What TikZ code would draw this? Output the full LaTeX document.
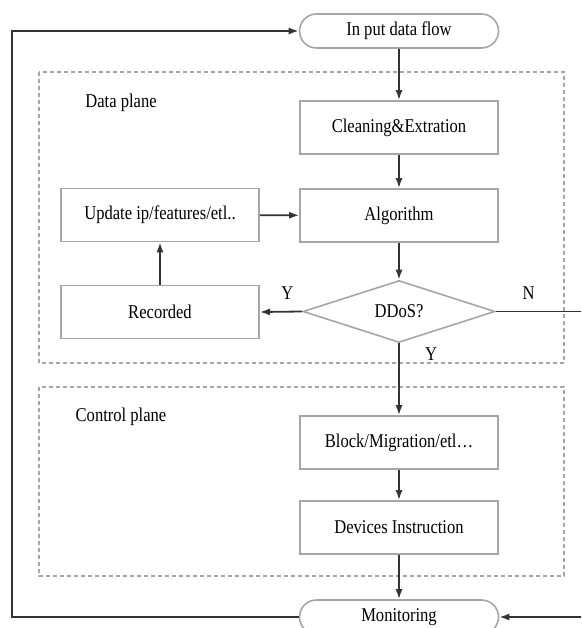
\documentclass[tikz,border=0pt]{standalone}
\usepackage{fontspec}
\setmainfont{Liberation Serif}[FakeStretch=0.85]
\usetikzlibrary{shapes.geometric, shapes.misc, arrows.meta}

\begin{document}
\begin{tikzpicture}[
        x=1pt, y=-1pt,
        every node/.style={font=\fontsize{19.5}{22}\selectfont},
        stepbox/.style={rectangle, draw=gray!70, line width=1.6pt, fill=white, minimum width=198pt, minimum height=53pt, inner sep=0pt, align=center},
        terminal/.style={rounded rectangle, draw=gray!70, line width=1.6pt, fill=white, minimum width=199pt, minimum height=34pt, inner sep=0pt},
        decision/.style={diamond, draw=gray!70, line width=1.6pt, fill=white, minimum width=192pt, minimum height=53pt, inner sep=0pt},
        plane/.style={draw=gray!70, dash pattern=on 4pt off 3pt, line width=1.3pt},
        link/.style={-{Latex[length=10pt,width=7pt]}, line width=1.8pt, draw=black!80},
        labeltext/.style={font=\fontsize{19.5}{22}\selectfont}
    ]
    \useasboundingbox (0,0) rectangle (581,628);
    \clip (0,0) rectangle (581,628);

    % Planes
    \draw[plane] (39,72) rectangle (564,363);
    \draw[plane] (39,387) rectangle (564,576);
    \node[labeltext] (dplabel) at (121,103) {Data plane};
    \node[labeltext] (cplabel) at (121,417) {Control plane};

    % Nodes
    \node[terminal] (input) at (399,31) {In put data flow};
    \node[stepbox] (clean) at (399,127.5) {Cleaning\&Extration};
    \node[stepbox] (algo) at (399,215.5) {Algorithm};
    \node[stepbox] (update) at (160,215) {Update ip/features/etl..};
    \node[decision] (ddos) at (399,311.5) {DDoS?};
    \node[stepbox] (recorded) at (160,312) {Recorded};
    \node[stepbox] (block) at (399,442.5) {Block/Migration/etl\dots};
    \node[stepbox] (devices) at (399,527.5) {Devices Instruction};
    \node[terminal] (monitor) at (399,617) {Monitoring};

    \coordinate (leftrail) at (12,320);
    \coordinate (rightrail) at (592,320);

    % Edges
    \draw[link] (input) -- (clean);
    \draw[link] (clean) -- (algo);
    \draw[link] (update) -- (algo);
    \draw[link] (algo) -- (ddos);
    \draw[link] (ddos.west) -- node[pos=0.35, above=8pt, labeltext] (yleft) {Y} (recorded.east);
    \draw[link] (recorded) -- (update);
    \draw[link] (ddos.south) -- node[pos=0.15, right=22pt, labeltext] (ydown) {Y} (block.north);
    \draw[link] (block) -- (devices);
    \draw[link] (devices) -- (monitor);
    \draw[link] (ddos.east) -- node[pos=0.34, above=8pt, labeltext] (nright) {N} (ddos.east -| rightrail) |- (monitor.east);

    % Feedback loop
    \draw[link] (monitor.west) -| (leftrail) |- (input.west);

\end{tikzpicture}
\end{document}
